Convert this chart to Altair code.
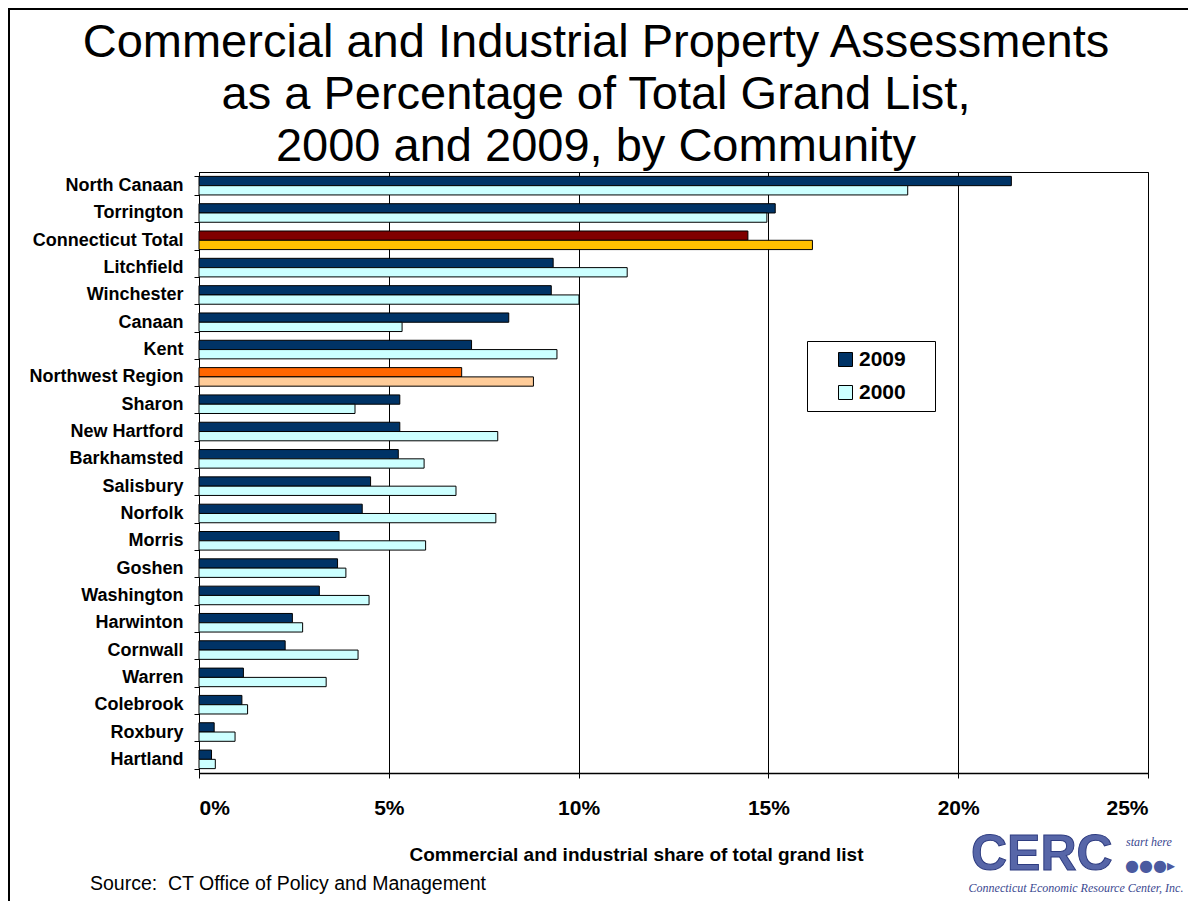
import altair as alt
import pandas as pd

communities = [
    "North Canaan", "Torrington", "Connecticut Total", "Litchfield", "Winchester",
    "Canaan", "Kent", "Northwest Region", "Sharon", "New Hartford", "Barkhamsted",
    "Salisbury", "Norfolk", "Morris", "Goshen", "Washington", "Harwinton",
    "Cornwall", "Warren", "Colebrook", "Roxbury", "Hartland",
]
share_2009 = [21.40, 15.18, 14.46, 9.33, 9.28, 8.16, 7.18, 6.92, 5.29, 5.29, 5.25,
              4.52, 4.30, 3.69, 3.65, 3.17, 2.46, 2.27, 1.17, 1.13, 0.40, 0.33]
share_2000 = [18.67, 14.96, 16.16, 11.28, 10.01, 5.35, 9.43, 8.81, 4.11, 7.87, 5.93,
              6.77, 7.82, 5.97, 3.87, 4.48, 2.73, 4.19, 3.35, 1.28, 0.95, 0.43]
years = ["2009", "2000"]
x_ticks = [0, 5, 10, 15, 20, 25]

title_text = ("Commercial and Industrial Property Assessments\n"
              "as a Percentage of Total Grand List,\n"
              "2000 and 2009, by Community")
x_title = "Commercial and industrial share of total grand list"
source_note = "Source:\u00a0\u00a0CT Office of Policy and Management"

special = {"Connecticut Total": "CT ", "Northwest Region": "NW "}

rows = []
for i, c in enumerate(communities):
    for y, vals in zip(years, [share_2009, share_2000]):
        rows.append({
            "community": c,
            "year": y,
            "share": vals[i],
            "key": special.get(c, "") + y,
        })
df = pd.DataFrame(rows)

key_domain = ["2009", "2000", "CT 2009", "CT 2000", "NW 2009", "NW 2000"]
key_range = ["#003366", "#CCFFFF", "#800000", "#FFC000", "#FF6600", "#FFCC99"]

FONT = "Liberation Sans"

bars = alt.Chart(df).mark_bar(stroke="black", strokeWidth=1).encode(
    x=alt.X(
        "share:Q",
        scale=alt.Scale(domain=[0, 25], nice=False, zero=True),
        axis=alt.Axis(
            values=x_ticks,
            labelExpr="datum.value + '%'",
            labelFontSize=21,
            labelFontWeight="bold",
            labelColor="black",
            labelPadding=19,
            tickSize=5,
            tickColor="black",
            domainColor="black",
            domainWidth=1.5,
            grid=True,
            gridColor="black",
            gridOpacity=1,
            gridWidth=1,
            title=x_title,
            titleFontSize=19,
            titleFontWeight="bold",
            titleColor="black",
            titleX=437,
            titleY=87,
            titleAlign="center",
            titleBaseline="alphabetic",
        ),
    ),
    y=alt.Y(
        "community:N",
        sort=communities,
        scale=alt.Scale(paddingInner=0.32, paddingOuter=0.16),
        axis=alt.Axis(
            title=None,
            labelFontSize=18,
            labelFontWeight="bold",
            labelColor="black",
            labelPadding=11,
            tickSize=5,
            tickColor="black",
            tickBand="extent",
            domainColor="black",
            grid=False,
        ),
    ),
    yOffset=alt.YOffset("year:N", sort=years),
    color=alt.Color(
        "key:N",
        scale=alt.Scale(domain=key_domain, range=key_range),
        legend=alt.Legend(
            title=None,
            values=["2009", "2000"],
            orient="none",
            legendX=608,
            legendY=169,
            strokeColor="black",
            fillColor="white",
            padding=8,
            symbolType="square",
            symbolSize=196,
            symbolStrokeColor="black",
            symbolStrokeWidth=1,
            symbolOffset=20,
            labelOffset=3,
            labelFontSize=21,
            labelFontWeight="bold",
            labelColor="black",
            labelExpr="datum.label + '\u00a0\u2800'",
            rowPadding=11,
        ),
    ),
)

title = alt.Chart(pd.DataFrame({"t": [title_text]})).mark_text(
    align="center", baseline="alphabetic", fontSize=47, font=FONT, color="black",
    lineBreak="\n", lineHeight=52
).encode(text="t:N", x=alt.value(397), y=alt.value(-115))

src = alt.Chart(pd.DataFrame({"t": [source_note]})).mark_text(
    align="left", baseline="middle", fontSize=19.5, font=FONT, color="black"
).encode(text="t:N", x=alt.value(-109), y=alt.value(712))

logo_big = alt.Chart(pd.DataFrame({"t": ["CERC"]})).mark_text(
    align="left", baseline="alphabetic", fontSize=50, font=FONT, fontWeight="bold",
    color="#5766a8", stroke="#2e3c80", strokeWidth=1
).encode(text="t:N", x=alt.value(772), y=alt.value(698))

logo_tag = alt.Chart(pd.DataFrame({"t": ["start here"]})).mark_text(
    align="left", baseline="alphabetic", fontSize=12, font="Liberation Serif",
    fontStyle="italic", color="#3a4890"
).encode(text="t:N", x=alt.value(927), y=alt.value(674))

logo_dots = alt.Chart(pd.DataFrame({"t": ["\u25cf\u25cf\u25cf\u25b8"]})).mark_text(
    align="left", baseline="alphabetic", fontSize=16, font="DejaVu Sans", color="#4a5aa0"
).encode(text="t:N", x=alt.value(926), y=alt.value(699))

logo_name = alt.Chart(pd.DataFrame({"t": ["Connecticut Economic Resource Center, Inc."]})).mark_text(
    align="center", baseline="alphabetic", fontSize=12, font="Liberation Serif",
    fontStyle="italic", color="#3a4890"
).encode(text="t:N", x=alt.value(877), y=alt.value(720))

frame = alt.Chart(pd.DataFrame({"f": [1]})).mark_rect(
    fill="transparent", stroke="black", strokeWidth=2
).encode(x=alt.value(-190), x2=alt.value(1010), y=alt.value(-163), y2=alt.value(760))

chart = alt.layer(frame, bars, title, src, logo_big, logo_tag, logo_dots, logo_name).properties(
    width=949,
    height=601,
    padding={"left": 191, "top": 164, "right": 40, "bottom": 128},
    autosize=alt.AutoSizeParams(type="none"),
).configure(
    font=FONT,
    background="white",
).configure_view(
    stroke="black",
    strokeWidth=1,
)

chart.save("out.html", embed_options={"renderer": "svg", "actions": False})
